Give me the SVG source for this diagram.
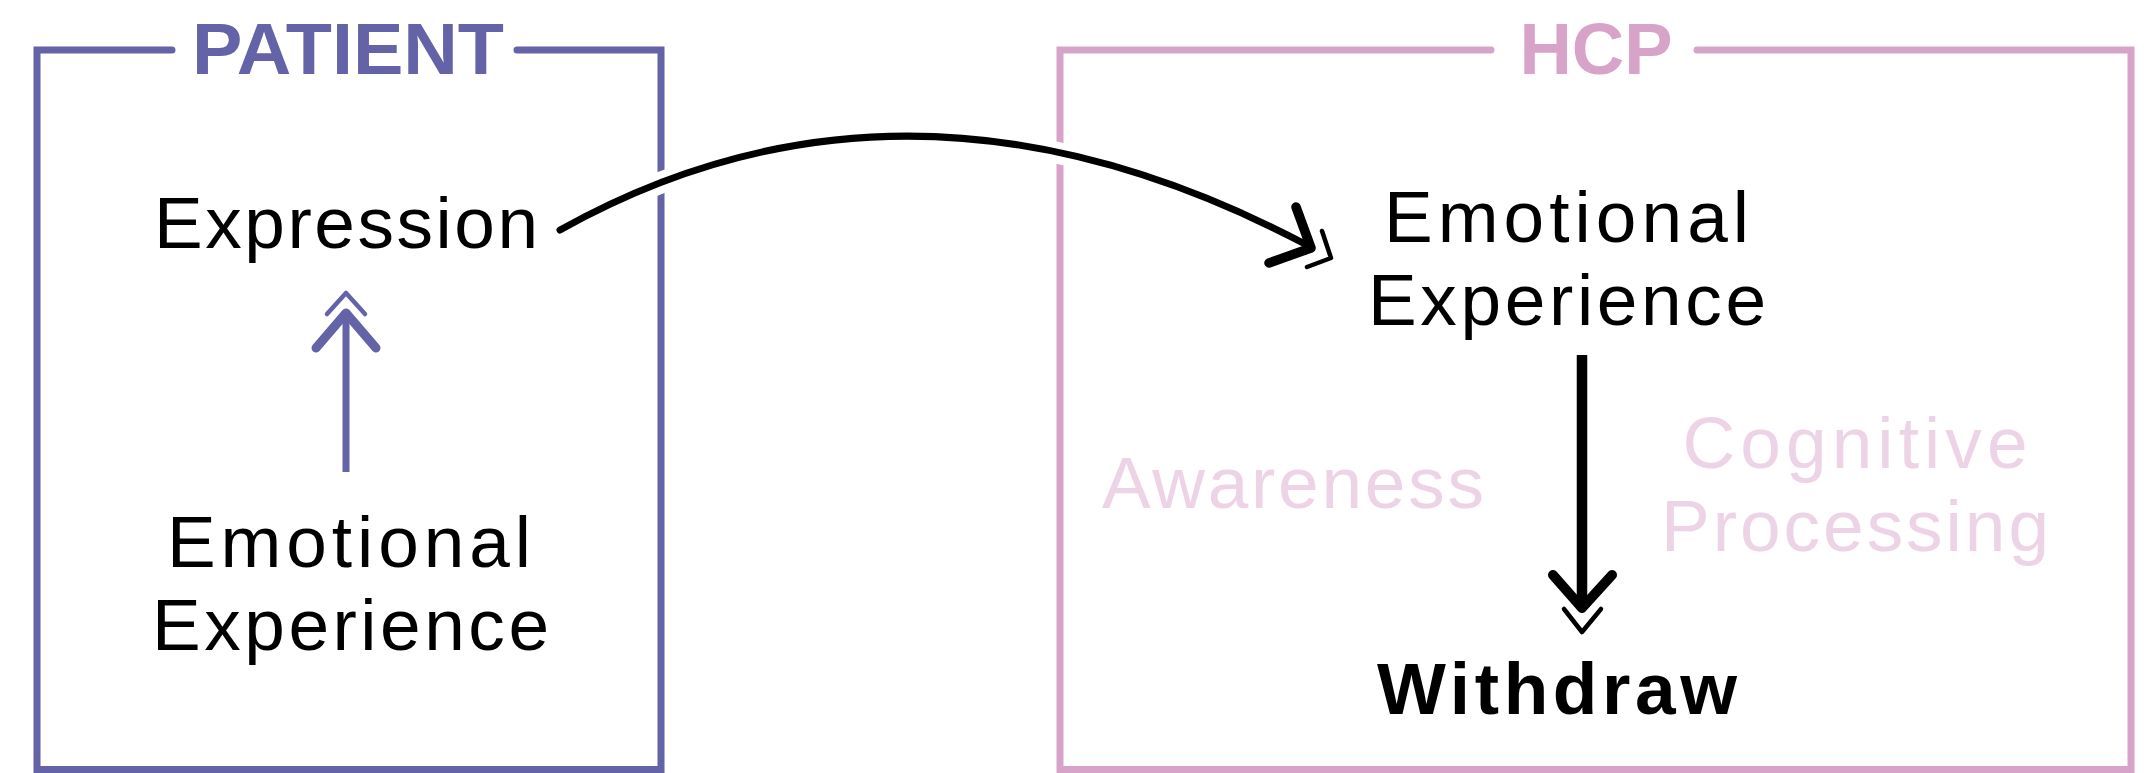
<svg xmlns="http://www.w3.org/2000/svg" width="2146" height="773" viewBox="0 0 2146 773">
<style>
.frame{fill:none;stroke-width:7;stroke-linecap:round;stroke-linejoin:miter}
.pat{stroke:#6563A8}
.hcp{stroke:#D8A3C8}
.title{font-family:"Liberation Sans",Arial,sans-serif;font-weight:bold;font-size:72px;text-anchor:middle}
.lbl{font-family:"Liberation Sans",Arial,sans-serif;font-size:73px;text-anchor:middle;fill:#000}
.faint{fill:#EDD3E6}
.bold{font-weight:bold}
.ln{fill:none;stroke-linecap:round;stroke-linejoin:round}
</style>
<rect width="2146" height="773" fill="#fff"/>
<g id="patient">
<path class="frame pat" d="M172,50 H37 V769.5 H661 V50 H517"/>
<text class="title" x="348" y="74" fill="#6563A8" textLength="312" lengthAdjust="spacingAndGlyphs">PATIENT</text>
</g>
<g id="hcp">
<path class="frame hcp" d="M1491,50 H1060 V769.5 H2131 V50 H1697"/>
<text class="title" x="1596" y="74" fill="#D8A3C8" textLength="153" lengthAdjust="spacingAndGlyphs">HCP</text>
</g>
<g id="patient-expression">
<text class="lbl" x="346" y="248" textLength="384" lengthAdjust="spacing">Expression</text>
</g>
<g id="patient-emotional-experience">
<text class="lbl" x="349" y="567" textLength="364" lengthAdjust="spacing">Emotional</text>
<text class="lbl" x="350.5" y="650" textLength="397" lengthAdjust="spacing">Experience</text>
</g>
<g id="hcp-emotional-experience">
<text class="lbl" x="1566.5" y="242" textLength="365" lengthAdjust="spacing">Emotional</text>
<text class="lbl" x="1567" y="325" textLength="398" lengthAdjust="spacing">Experience</text>
</g>
<g id="awareness">
<text class="lbl faint" x="1293" y="508" textLength="382" lengthAdjust="spacing">Awareness</text>
</g>
<g id="cognitive-processing">
<text class="lbl faint" x="1855" y="468" textLength="345" lengthAdjust="spacing">Cognitive</text>
<text class="lbl faint" x="1855" y="551" textLength="388" lengthAdjust="spacing">Processing</text>
</g>
<g id="withdraw">
<text class="lbl bold" x="1557" y="714" textLength="360" lengthAdjust="spacing">Withdraw</text>
</g>
<g id="connectors">
<!-- patient: emotional experience -> expression -->
<g class="ln" stroke="#6563A8">
<line x1="346" y1="472" x2="346" y2="315" stroke-width="7" stroke-linecap="butt"/>
<polyline points="316,348 346,313 376,348" stroke-width="9"/>
<polyline points="327,314 346,293 365,314" stroke-width="4.5"/>
</g>
<!-- expression -> hcp emotional experience -->
<path d="M560,230 Q909,35 1310,247" fill="none" stroke="#fff" stroke-width="22"/>
<g class="ln" stroke="#000">
<path d="M560,230 Q909,35 1307,245" stroke-width="7"/>
<polyline points="1296,207 1311,248 1269,263" stroke-width="9.5"/>
<polyline points="1322,231 1331,258 1307,267" stroke-width="4.5"/>
</g>
<!-- hcp emotional experience -> withdraw -->
<g class="ln" stroke="#000">
<line x1="1582" y1="355" x2="1582" y2="604" stroke-width="10.5" stroke-linecap="butt"/>
<polyline points="1553,575 1582,608 1612,575" stroke-width="10"/>
<polyline points="1564,609 1582,632 1601,609" stroke-width="4.5"/>
</g>
</g>
</svg>
